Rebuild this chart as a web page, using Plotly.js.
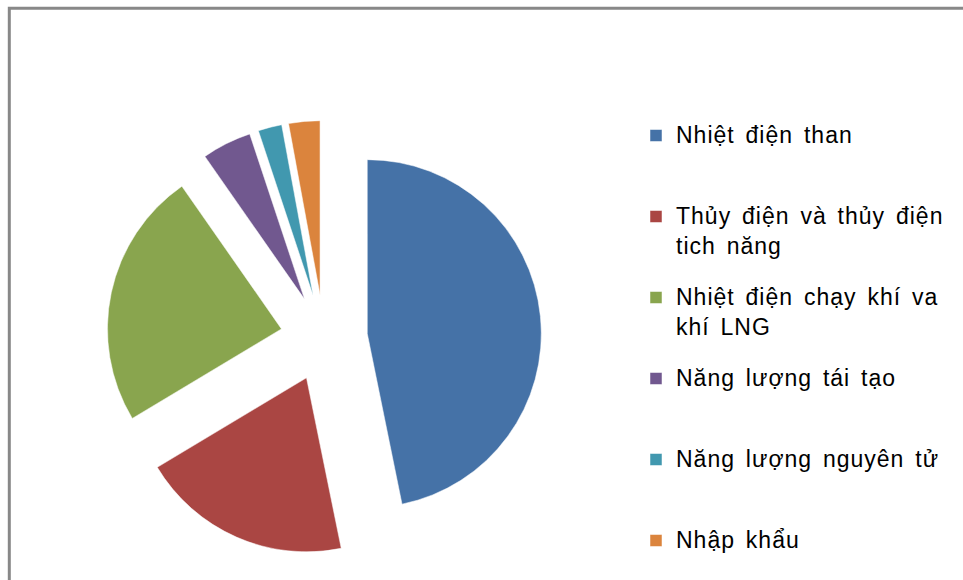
<!DOCTYPE html>
<html>
<head>
<meta charset="utf-8">
<script src="https://cdn.plot.ly/plotly-3.0.1.min.js"></script>
<style>
  html, body { margin: 0; padding: 0; background: #ffffff; }
  #chart { width: 963px; height: 580px; }
  text.legendtext { font-size: 23px !important; letter-spacing: 1px; word-spacing: 3.5px; }
</style>
</head>
<body>
<div id="chart"></div>
<script>
// Categories (legend labels), in drawing order clockwise from 12 o'clock
const categories = [
  "Nhiệt điện than",
  "Thủy điện và thủy điện<br>tich năng",
  "Nhiệt điện chạy khí va<br>khí LNG",
  "Năng lượng tái tạo",
  "Năng lượng nguyên tử",
  "Nhập khẩu"
];
// Shares (%)
const shares = [46.8, 19.6, 23.9, 4.6, 2.2, 2.9];
const sliceColors = ["#4572A7", "#AA4643", "#89A54E", "#71588F", "#4198AF", "#DB843D"];

// Pad legend entries (all but the last) to three lines so entries are evenly spaced
const legendLabels = categories.map(function (c, i) {
  if (i === categories.length - 1) return c;
  const lines = c.split("<br>").length;
  let s = c;
  for (let k = lines; k < 3; k++) s += "<br>\u00a0";
  return s;
});

const W = 963, H = 580;
const cx = 324, cy = 338, r = 174, pull = 0.25;
const half = r * (1 + pull);

const trace = {
  type: "pie",
  labels: legendLabels,
  values: shares,
  sort: false,
  direction: "clockwise",
  rotation: 0,
  pull: pull,
  textinfo: "none",
  hoverinfo: "none",
  marker: { colors: sliceColors, line: { color: "#ffffff", width: 0.5 } },
  domain: {
    x: [(cx - half) / W, (cx + half) / W],
    y: [1 - (cy + half) / H, 1 - (cy - half) / H]
  }
};

const layout = {
  width: W,
  height: H,
  margin: { l: 0, r: 0, t: 0, b: 0 },
  paper_bgcolor: "#ffffff",
  plot_bgcolor: "#ffffff",
  font: { family: "Liberation Sans, Arial, sans-serif", color: "#000000" },
  showlegend: true,
  legend: {
    x: 636 / W,
    xanchor: "left",
    y: 1 - 116 / H,
    yanchor: "top",
    valign: "top",
    font: { family: "Liberation Sans, Arial, sans-serif", size: 20, color: "#000000" },
    bgcolor: "rgba(0,0,0,0)",
    borderwidth: 0
  },
  shapes: [
    {
      type: "rect", xref: "paper", yref: "paper", layer: "below",
      x0: 9.3 / W, x1: 1.05, y0: -0.05, y1: 1 - 8.2 / H,
      line: { color: "#888888", width: 3 },
      fillcolor: "rgba(0,0,0,0)"
    }
  ]
};

Plotly.newPlot("chart", [trace], layout, { displayModeBar: false, staticPlot: true });
</script>
</body>
</html>
